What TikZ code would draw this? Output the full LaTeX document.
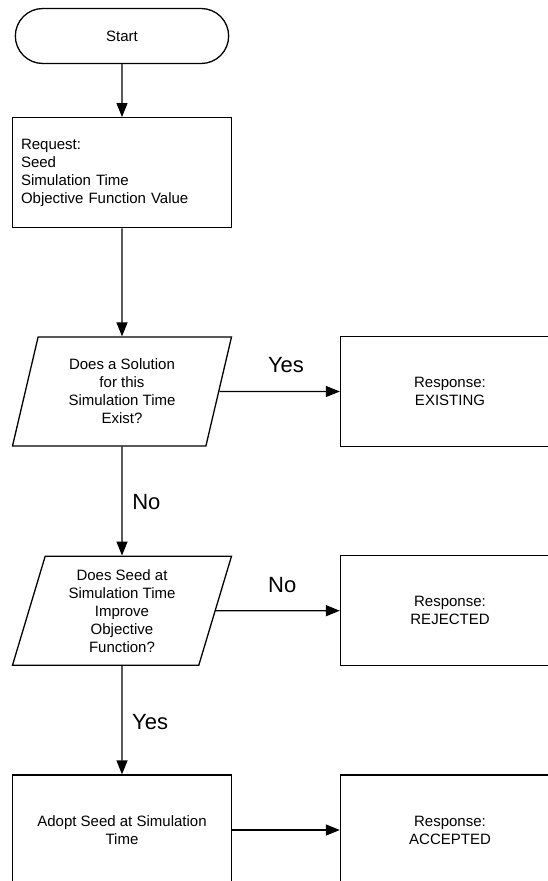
\documentclass[tikz,border=0pt]{standalone}
\usepackage{fontspec}
\setmainfont{Liberation Sans}
\usetikzlibrary{shapes.geometric, shapes.misc, arrows.meta}

\begin{document}
\begin{tikzpicture}[x=1pt, y=-1pt,
    line width=1.3pt,
    every node/.style={font=\fontsize{15}{18}\selectfont},
    box/.style={draw, rectangle, minimum width=219pt, minimum height=110pt, align=center},
    decision/.style={draw, trapezium, trapezium left angle=68.5, trapezium right angle=111.5,
      trapezium stretches body, minimum width=219pt, minimum height=109pt, align=center, inner sep=0pt},
    flowlabel/.style={font=\fontsize{22}{26}\selectfont, inner sep=0pt},
    >={Triangle[length=14pt, width=11pt]}]

    \clip (0,0) rectangle (548,881);

    \node[draw, rounded rectangle, minimum width=220pt, minimum height=55pt] (start) at (122,36) {Start};

    \node[box, align=left, text width=202pt, inner xsep=8.5pt] (req) at (122,172.7)
      {Request:\\Seed\\Simulation Time\\Objective Function Value};

    \node[decision] (dec1) at (122,391.5) {Does a Solution\\for this\\Simulation Time\\Exist?};
    \node[box] (resp1) at (450,391.5) {Response:\\EXISTING};

    \node[decision] (dec2) at (122,610.7) {Does Seed at\\Simulation Time\\Improve\\Objective\\Function?};
    \node[box] (resp2) at (450,610.7) {Response:\\REJECTED};

    \node[box] (adopt) at (122,830) {Adopt Seed at Simulation\\Time};
    \node[box] (resp3) at (450,830) {Response:\\ACCEPTED};

    \node[flowlabel, anchor=base] (label1) at (286,372.3) {Yes};
    \node[flowlabel, anchor=base west] (label2) at (131.7,509.3) {No};
    \node[flowlabel, anchor=base] (label3) at (282.2,592.3) {No};
    \node[flowlabel, anchor=base west] (label4) at (131.5,729.3) {Yes};

    \draw[->] (start) -- (req);
    \draw[->] (req) -- (dec1);
    \draw[->] (dec1) -- (resp1);
    \draw[->] (dec1) -- (dec2);
    \draw[->] (dec2) -- (resp2);
    \draw[->] (dec2) -- (adopt);
    \draw[->] (adopt) -- (resp3);
  \end{tikzpicture}
\end{document}
